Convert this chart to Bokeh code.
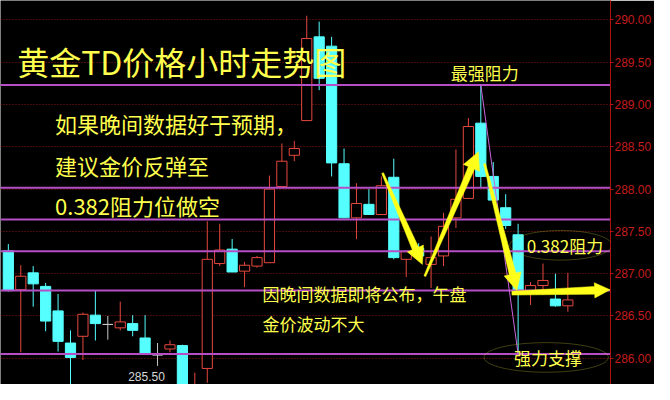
from bokeh.plotting import figure
from bokeh.models import (ColumnDataSource, FixedTicker, NumeralTickFormatter, Range1d,
                          Label, PolyAnnotation)
from bokeh.embed import file_html
from bokeh.resources import INLINE
from bokeh.core.properties import value
import math

# ---------------- data (hourly candles) ----------------
opens  = [287.27, 286.81, 287.01, 286.85, 286.56, 286.18, 286.26, 286.51, 286.40, 286.36,
          286.41, 286.24, 286.04, 286.11, 286.15, 285.58, 285.88, 287.12, 287.29, 287.03,
          287.09, 287.13, 288.03, 288.40, 288.81, 289.80, 289.69, 288.30, 287.66, 287.82,
          287.70, 288.14, 287.17, 287.30, 287.11, 287.21, 287.66, 287.89, 288.78, 288.15,
          287.78, 287.46, 286.79, 286.86, 286.70, 286.62]
highs  = [287.35, 287.10, 287.09, 286.89, 286.76, 286.33, 286.54, 286.80, 286.50, 286.67,
          286.51, 286.51, 286.18, 286.21, 286.16, 285.83, 287.62, 287.59, 287.41, 287.14,
          287.21, 288.16, 288.54, 288.57, 290.05, 289.98, 289.80, 288.48, 288.07, 288.00,
          288.15, 288.36, 287.28, 287.36, 287.44, 287.72, 288.47, 288.84, 289.23, 288.32,
          287.94, 287.59, 286.90, 287.12, 287.00, 287.01]
lows   = [286.79, 286.07, 286.61, 286.32, 286.08, 285.60, 285.98, 286.21, 286.22, 286.33,
          286.26, 286.05, 285.91, 286.07, 285.55, 285.50, 285.71, 287.09, 287.02, 286.84,
          287.07, 287.13, 288.03, 288.33, 288.81, 289.17, 288.15, 287.66, 287.41, 287.70,
          287.70, 287.17, 286.96, 287.19, 286.83, 287.09, 287.54, 287.89, 288.02, 287.85,
          287.53, 286.05, 286.63, 286.75, 286.61, 286.55]
closes = [286.80, 286.97, 286.88, 286.44, 286.20, 286.01, 286.52, 286.41, 286.40, 286.43,
          286.33, 286.05, 286.04, 286.16, 285.62, 285.66, 287.17, 287.28, 287.02, 287.10,
          287.19, 288.00, 288.33, 288.48, 289.78, 289.31, 288.31, 287.66, 287.83, 287.70,
          288.04, 287.19, 287.26, 287.21, 287.19, 287.56, 287.88, 288.74, 288.15, 287.87,
          287.57, 286.79, 286.86, 286.92, 286.62, 286.69]

axis_ticks = [286.0, 286.5, 287.0, 287.5, 288.0, 288.5, 289.0, 289.5, 290.0]
fib_high = 289.23          # high of candle 38
fib_low = 286.05           # low of candle 41
fib_high_idx = 38
fib_low_idx = 41
fib_ratios = [0.0, 0.236, 0.382, 0.5, 0.618, 1.0]
low_label = "285.50"

title = "黄金TD价格小时走势图"
advice = ["如果晚间数据好于预期，", "建议金价反弹至", "0.382阻力位做空"]
note = ["因晚间数据即将公布，午盘", "金价波动不大"]
lbl_top = "最强阻力"
lbl_res = "0.382阻力"
lbl_sup = "强力支撑"

# ---------------- styling ----------------
X0, X1 = -0.63, 48.43
Y0, Y1 = 285.69, 290.23
UP = "#E5483F"
DOWN = "#55FFFF"
DOJI = "#C8C8C8"
FIB = "#B64FC6"
YEL = "#FFFF4D"
ARW = "#FFFF1A"
AXC = "#C41C1C"
CJK = "Noto Sans CJK SC"

p = figure(width=654, height=384, output_backend="svg", toolbar_location=None,
           x_axis_location=None, y_axis_location="right",
           x_range=Range1d(X0, X1), y_range=Range1d(Y0, Y1),
           min_border_left=0, min_border_right=0, min_border_top=0, min_border_bottom=0,
           background_fill_color="black", border_fill_color="black")
p.outline_line_color = None
p.xgrid.visible = False
p.ygrid.ticker = FixedTicker(ticks=axis_ticks)
p.ygrid.grid_line_color = "#8E1414"
p.ygrid.grid_line_dash = "1 2"
p.ygrid.grid_line_width = 1

ax = p.yaxis[0]
ax.ticker = FixedTicker(ticks=axis_ticks)
ax.formatter = NumeralTickFormatter(format="0.00")
ax.axis_line_color = "#B01212"
ax.major_tick_line_color = "#B01212"
ax.major_tick_in = 0
ax.major_tick_out = 3
ax.minor_tick_line_color = None
ax.major_label_standoff = 1
ax.major_label_text_color = AXC
ax.major_label_text_font = "Liberation Sans"
ax.major_label_text_font_size = "12px"

# ---------------- candles ----------------
idx = list(range(len(opens)))
col, fill = [], []
for o, c in zip(opens, closes):
    if c > o:
        col.append(UP); fill.append("black")
    elif c < o:
        col.append(DOWN); fill.append(DOWN)
    else:
        col.append(DOJI); fill.append(DOJI)
src = ColumnDataSource(dict(x=idx, o=opens, h=highs, l=lows, c=closes,
                            top=[max(a, b) for a, b in zip(opens, closes)],
                            bot=[min(a, b) for a, b in zip(opens, closes)],
                            col=col, fill=fill))
p.segment(x0="x", y0="h", x1="x", y1="l", color="col", line_width=1, source=src)
p.vbar(x="x", top="top", bottom="bot", width=0.82, fill_color="fill",
       line_color="col", line_width=1, source=src)

# ---------------- fibonacci lines ----------------
fib_levels = [fib_low + r * (fib_high - fib_low) for r in fib_ratios]
for lv in fib_levels:
    p.line([X0, X1], [lv, lv], line_color=FIB, line_width=2)
p.line([fib_high_idx, fib_low_idx], [fib_high, fib_low], line_color="#C866D8", line_width=1)

# low label (lowest price marker)
p.text(x=[9.64], y=[285.73], text=[low_label], text_color="#D8D8D8",
       text_font=value("Liberation Sans"), text_font_size="12px",
       text_baseline="bottom", text_align="left")

# ---------------- texts ----------------
def txt(x, y, s, size):
    p.add_layout(Label(x=x, y=y, text=s, text_color=YEL, text_font=CJK,
                       text_font_size=size, text_baseline="middle", text_align="left"))

txt(0.71, 289.52, title, "32px")
for s, yy in zip(advice, [288.78, 288.29, 287.81]):
    txt(3.76, yy, s, "22px")
txt(35.58, 289.38, lbl_top, "17px")
for s, yy in zip(note, [286.76, 286.41]):
    txt(20.45, yy, s, "17px")
txt(41.69, 287.336, lbl_res, "17px")
txt(40.67, 286.01, lbl_sup, "17px")

# ellipses around the two level labels
def ellipse(cx, cy, w, h):
    n = 80
    xs = [cx + w / 2 * math.cos(2 * math.pi * k / n) for k in range(n)]
    ys = [cy + h / 2 * math.sin(2 * math.pi * k / n) for k in range(n)]
    p.add_layout(PolyAnnotation(xs=xs, ys=ys, fill_color=None, fill_alpha=0,
                                line_color="#CFCF3A", line_width=1))

ellipse(44.44, 287.336, 8.2, 0.35)
ellipse(43.26, 286.01, 10.0, 0.35)

# ---------------- tapered arrows ----------------
SX = 626.0 / (X1 - X0)
SY = 400.0 / (Y1 - Y0)

def to_px(x, y):
    return ((x - X0) * SX, (Y1 - y) * SY)

def to_data(px, py):
    return (px / SX + X0, Y1 - py / SY)

def arrow(tail, tip, w0, w1, hw, hl):
    tx, ty = to_px(*tail)
    hx, hy = to_px(*tip)
    dx, dy = hx - tx, hy - ty
    L = math.hypot(dx, dy)
    ux, uy = dx / L, dy / L
    nx, ny = -uy, ux
    bx, by = hx - ux * hl, hy - uy * hl
    pts = [(tx + nx * w0, ty + ny * w0), (bx + nx * w1, by + ny * w1),
           (bx + nx * hw, by + ny * hw), (hx, hy), (bx - nx * hw, by - ny * hw),
           (bx - nx * w1, by - ny * w1), (tx - nx * w0, ty - ny * w0)]
    d = [to_data(a, b) for a, b in pts]
    p.patch([q[0] for q in d], [q[1] for q in d], fill_color=ARW, line_color=ARW, line_width=0.5)

arrow((30.1, 288.19), (33.3, 287.11), 1.0, 3.5, 9, 18)
arrow((33.5, 286.97), (37.8, 288.44), 1.0, 3.5, 9, 18)
arrow((38.3, 288.30), (40.9, 286.80), 1.0, 3.5, 9, 18)
arrow((40.5, 286.77), (48.4, 286.81), 2.0, 4.0, 8, 16)

open("out.html", "w").write(file_html(p, INLINE))
